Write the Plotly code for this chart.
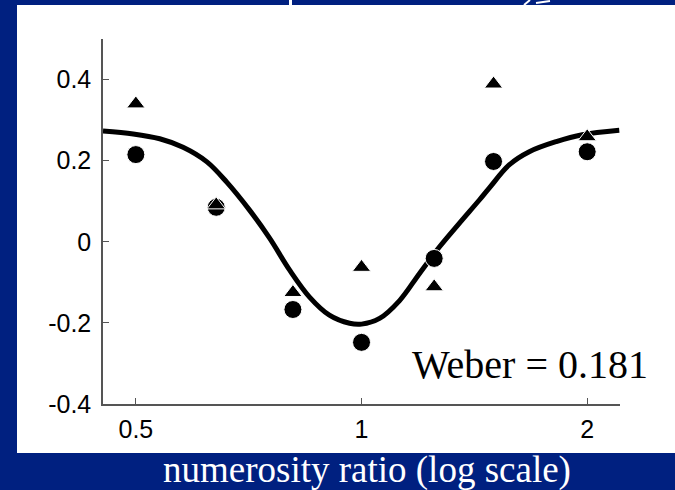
import math
import plotly.graph_objects as go

# ---- data ----
ratios = [0.5, 0.64, 0.81, 1.0, 1.25, 1.5, 2.0]
circle_vals = [0.215, 0.085, -0.167, -0.248, -0.041, 0.198, 0.222]
triangle_vals = [0.340, 0.091, -0.125, -0.063, -0.111, 0.389, 0.259]

curve_x = [0.452, 0.496, 0.538, 0.578, 0.622, 0.661, 0.709, 0.754, 0.802, 0.853,
           0.906, 0.964, 1.0, 1.057, 1.124, 1.195, 1.270, 1.351, 1.436, 1.481,
           1.575, 1.674, 1.819, 1.970, 2.207]
curve_y = [0.273, 0.266, 0.254, 0.233, 0.197, 0.147, 0.078, 0.009, -0.070, -0.137,
           -0.181, -0.201, -0.203, -0.189, -0.145, -0.078, -0.013, 0.046, 0.103, 0.133,
           0.190, 0.222, 0.247, 0.264, 0.275]

x_tickvals = [0.5, 1, 2]
x_ticktext = ["0.5", "1", "2"]
y_tickvals = [-0.4, -0.2, 0, 0.2, 0.4]
y_ticktext = ["-0.4", "-0.2", "0", "0.2", "0.4"]

annotation_text = "Weber = 0.181"
x_title = "numerosity ratio (log scale)"

BLUE = "#002080"
W, H = 675, 490
L, R, T, B = 103, 55, 39, 86
PW, PH = W - L - R, H - T - B


def px(xp):
    return (xp - L) / PW


def py(yp):
    return (H - B - yp) / PH


fig = go.Figure()

fig.add_trace(go.Scatter(
    x=curve_x, y=curve_y, mode="lines",
    line=dict(color="black", width=5, shape="spline", smoothing=1.0),
    hoverinfo="skip", showlegend=False))

fig.add_trace(go.Scatter(
    x=ratios, y=circle_vals, mode="markers",
    marker=dict(symbol="circle", size=18, color="black",
                line=dict(color="white", width=1)),
    showlegend=False))

fig.add_trace(go.Scatter(
    x=ratios, y=triangle_vals, mode="markers",
    marker=dict(symbol="triangle-up", size=16, color="black",
                line=dict(color="white", width=1)),
    showlegend=False))

axis_font = dict(family="Liberation Sans, Arial", size=25, color="black")

fig.update_xaxes(
    type="log",
    range=[math.log10(0.452), math.log10(2.212)],
    tickvals=x_tickvals, ticktext=x_ticktext,
    ticks="inside", ticklen=6, tickcolor="#555555", tickwidth=1,
    showline=True, linecolor="#555555", linewidth=1.5,
    showgrid=False, zeroline=False, mirror=False,
    tickfont=axis_font, ticklabelstandoff=2)

fig.update_yaxes(
    range=[-0.4, 0.5],
    tickvals=y_tickvals, ticktext=y_ticktext,
    ticks="inside", ticklen=6, tickcolor="#555555", tickwidth=1,
    showline=True, linecolor="#555555", linewidth=1.5,
    showgrid=False, zeroline=False, mirror=False,
    tickfont=axis_font, ticklabelstandoff=5)

shapes = [
    # white slide panel
    dict(type="rect", xref="paper", yref="paper", layer="below",
         x0=px(17), x1=px(680), y0=py(453), y1=py(5),
         fillcolor="white", line=dict(width=0)),
    # small white bits peeking at the top edge
    dict(type="rect", xref="paper", yref="paper", layer="below",
         x0=px(289), x1=px(292), y0=py(5), y1=py(0),
         fillcolor="white", line=dict(width=0)),
    dict(type="line", xref="paper", yref="paper", layer="below",
         x0=px(524), x1=px(530), y0=py(5), y1=py(0),
         line=dict(color="white", width=2)),
    dict(type="line", xref="paper", yref="paper", layer="below",
         x0=px(536), x1=px(550), y0=py(3), y1=py(1),
         line=dict(color="white", width=2)),
]

annotations = [
    dict(text=annotation_text, xref="paper", yref="paper",
         x=px(530), y=py(364), xanchor="center", yanchor="middle",
         showarrow=False,
         font=dict(family="Liberation Serif, Times New Roman", size=40, color="black")),
    dict(text=x_title, xref="paper", yref="paper",
         x=px(367), y=py(470), xanchor="center", yanchor="middle",
         showarrow=False,
         font=dict(family="Liberation Serif, Times New Roman", size=37, color="white")),
]

fig.update_layout(
    width=W, height=H,
    margin=dict(l=L, r=R, t=T, b=B, pad=0),
    paper_bgcolor=BLUE, plot_bgcolor="white",
    shapes=shapes, annotations=annotations,
    showlegend=False)

fig.write_html(
    "out.html",
    config={"displayModeBar": False},
    post_script="document.body.style.margin='0px';document.body.style.overflow='hidden';")
